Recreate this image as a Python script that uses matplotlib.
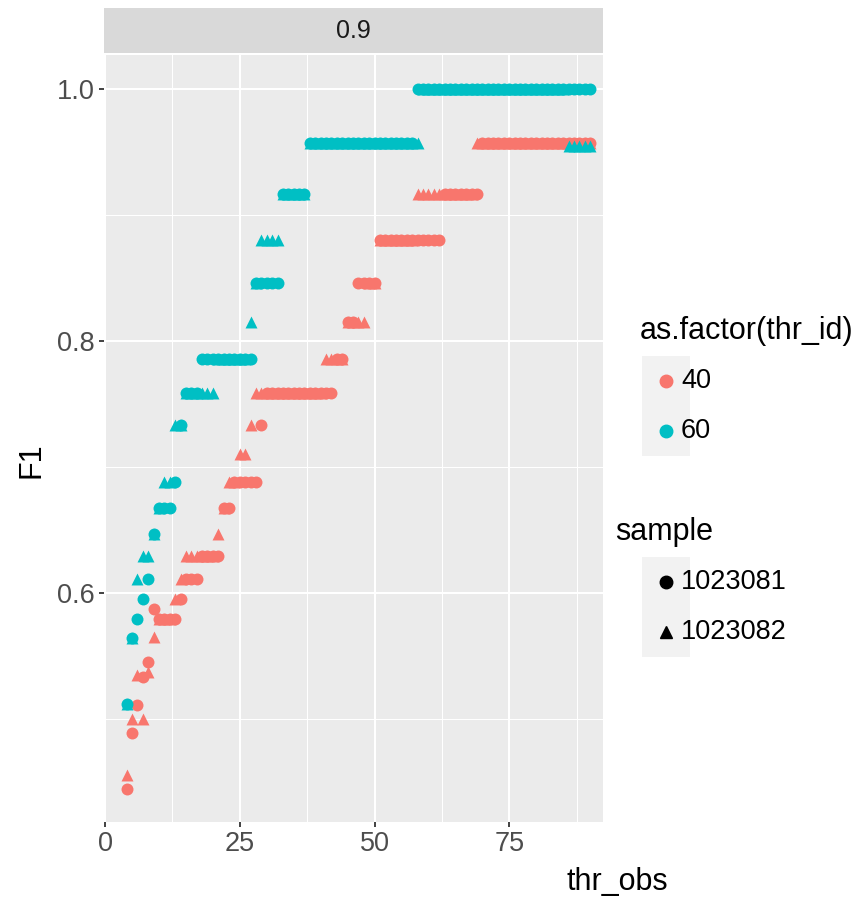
import numpy as np
import matplotlib
matplotlib.use("Agg")
import matplotlib.pyplot as plt
from matplotlib.lines import Line2D
from matplotlib.patches import Rectangle

plt.rcParams['font.family'] = ['Liberation Sans', 'DejaVu Sans']

# thr_obs runs over integers 4..90
thr_obs = np.arange(4, 91)

# F1 for thr_id 40, sample 1023081 (red circles)
f1_40_a = [0.444, 0.489, 0.511, 0.533, 0.545, 0.587, 0.579, 0.579, 0.579, 0.579,
           0.595, 0.611, 0.611, 0.611, 0.629, 0.629, 0.629, 0.629, 0.667, 0.667,
           0.688, 0.688, 0.688, 0.688, 0.688, 0.733,
           0.759, 0.759, 0.759, 0.759, 0.759, 0.759, 0.759, 0.759, 0.759, 0.759,
           0.759, 0.759, 0.759,
           0.786, 0.786, 0.815, 0.815, 0.846, 0.846, 0.846, 0.846,
           0.880, 0.880, 0.880, 0.880, 0.880, 0.880, 0.880, 0.880, 0.880, 0.880,
           0.880, 0.880,
           0.917, 0.917, 0.917, 0.917, 0.917, 0.917, 0.917,
           0.957, 0.957, 0.957, 0.957, 0.957, 0.957, 0.957, 0.957, 0.957, 0.957,
           0.957, 0.957, 0.957, 0.957, 0.957, 0.957, 0.957, 0.957, 0.957, 0.957,
           0.957]

# F1 for thr_id 40, sample 1023082 (red triangles)
f1_40_b = [0.455, 0.500, 0.535, 0.500, 0.537, 0.565, 0.579, 0.579, 0.579, 0.595,
           0.611,
           0.629, 0.629, 0.629, 0.629, 0.629, 0.629,
           0.647, 0.667, 0.688, 0.688, 0.710, 0.710, 0.733,
           0.759, 0.759, 0.759, 0.759, 0.759, 0.759, 0.759, 0.759, 0.759, 0.759,
           0.759, 0.759, 0.759,
           0.786, 0.786, 0.786, 0.786, 0.815, 0.815, 0.815, 0.815, 0.846, 0.846,
           0.880, 0.880, 0.880, 0.880, 0.880, 0.880, 0.880,
           0.917, 0.917, 0.917, 0.917, 0.917, 0.917, 0.917, 0.917, 0.917, 0.917,
           0.917,
           0.957, 0.957, 0.957, 0.957, 0.957, 0.957, 0.957, 0.957, 0.957, 0.957,
           0.957, 0.957, 0.957, 0.957, 0.957, 0.957, 0.957, 0.957, 0.957, 0.957,
           0.957, 0.957]

# F1 for thr_id 60, sample 1023081 (teal circles)
f1_60_a = [0.512, 0.564, 0.579, 0.595, 0.611, 0.647, 0.667, 0.667, 0.667, 0.688,
           0.733, 0.759, 0.759, 0.759,
           0.786, 0.786, 0.786, 0.786, 0.786, 0.786, 0.786, 0.786, 0.786, 0.786,
           0.846, 0.846, 0.846, 0.846, 0.846,
           0.917, 0.917, 0.917, 0.917, 0.917,
           0.957, 0.957, 0.957, 0.957, 0.957, 0.957, 0.957, 0.957, 0.957, 0.957,
           0.957, 0.957, 0.957, 0.957, 0.957, 0.957, 0.957, 0.957, 0.957, 0.957,
           1.0, 1.0, 1.0, 1.0, 1.0, 1.0, 1.0, 1.0, 1.0, 1.0,
           1.0, 1.0, 1.0, 1.0, 1.0, 1.0, 1.0, 1.0, 1.0, 1.0,
           1.0, 1.0, 1.0, 1.0, 1.0, 1.0, 1.0, 1.0, 1.0, 1.0,
           1.0, 1.0, 1.0]

# F1 for thr_id 60, sample 1023082 (teal triangles)
f1_60_b = [0.512, 0.564, 0.611, 0.629, 0.629, 0.647, 0.667, 0.688, 0.688, 0.733,
           0.733,
           0.759, 0.759, 0.759, 0.759, 0.759, 0.759,
           0.786, 0.786, 0.786, 0.786, 0.786, 0.786,
           0.815, 0.846, 0.880, 0.880, 0.880, 0.880,
           0.917, 0.917, 0.917, 0.917, 0.917,
           0.957, 0.957, 0.957, 0.957, 0.957, 0.957, 0.957, 0.957, 0.957, 0.957,
           0.957, 0.957, 0.957, 0.957, 0.957, 0.957, 0.957, 0.957, 0.957, 0.957,
           0.957,
           1.0, 1.0, 1.0, 1.0, 1.0, 1.0, 1.0, 1.0, 1.0, 1.0,
           1.0, 1.0, 1.0, 1.0, 1.0, 1.0, 1.0, 1.0, 1.0, 1.0,
           1.0, 1.0, 1.0, 1.0, 1.0, 1.0, 1.0,
           0.955, 0.955, 0.955, 0.955, 0.955]

thr_ids = ["40", "60"]
samples = ["1023081", "1023082"]
colors = {"40": "#F8766D", "60": "#00BFC4"}
shapes = {"1023081": "o", "1023082": "^"}

fig = plt.figure(figsize=(8.66, 8.98), dpi=100)
W, H = 866, 898

def fx(px):
    return px / W

def fy(py):
    return 1 - py / H

ax = fig.add_axes([fx(104), fy(822), fx(603) - fx(104), fy(55) - fy(822)])
ax.set_facecolor("#EBEBEB")
for s in ax.spines.values():
    s.set_visible(False)

ax.set_xlim(-0.2, 92.4)
ax.set_ylim(0.418, 1.027)
ax.set_xticks([0, 25, 50, 75])
ax.set_xticks([12.5, 37.5, 62.5, 87.5], minor=True)
ax.set_yticks([0.6, 0.8, 1.0])
ax.set_yticklabels(["0.6", "0.8", "1.0"])
ax.set_yticks([0.5, 0.7, 0.9], minor=True)
ax.grid(which="major", color="white", linewidth=1.5)
ax.grid(which="minor", color="white", linewidth=0.75)
ax.set_axisbelow(True)
ax.tick_params(which="major", length=3.5, width=1.3, color="#333333",
               labelsize=19.5, labelcolor="#4D4D4D", pad=3)
ax.tick_params(which="minor", length=0)

series = [("40", "1023081", f1_40_a), ("60", "1023081", f1_60_a),
          ("40", "1023082", f1_40_b), ("60", "1023082", f1_60_b)]
for tid, smp, vals in series:
    ax.scatter(thr_obs, vals, s=74, marker=shapes[smp], color=colors[tid],
               linewidths=0, zorder=3)

# facet strip
strip = fig.add_axes([fx(104), fy(53), fx(603) - fx(104), fy(8) - fy(53)])
strip.set_facecolor("#D9D9D9")
strip.set_xticks([])
strip.set_yticks([])
for s in strip.spines.values():
    s.set_visible(False)
strip.text(0.5, 0.5, "0.9", ha="center", va="center", fontsize=18,
           color="#1A1A1A", transform=strip.transAxes)

# axis titles
fig.text(fx(32), fy(460), "F1", rotation=90, ha="center", va="center",
         fontsize=22, color="black")
fig.text(fx(617), fy(882), "thr_obs", ha="center", va="center",
         fontsize=22, color="black")

# legends drawn by hand to match ggplot layout
def legend_block(title, title_x, title_y, labels, key_colors, key_markers, top):
    fig.text(fx(title_x), fy(title_y), title, ha="left", va="center",
             fontsize=22, color="black")
    key_h = 50
    fig.patches.append(Rectangle((fx(642), fy(top + key_h * len(labels))),
                                 fx(690) - fx(642), (key_h * len(labels)) / H,
                                 transform=fig.transFigure, facecolor="#F2F2F2",
                                 edgecolor="none", figure=fig))
    for i, lab in enumerate(labels):
        cy = top + key_h * i + key_h / 2
        fig.add_artist(Line2D([fx(666)], [fy(cy)], marker=key_markers[i],
                              markersize=9, color=key_colors[i], linestyle="none",
                              transform=fig.transFigure))
        fig.text(fx(681), fy(cy), lab, ha="left", va="center", fontsize=19.5,
                 color="black")

legend_block("as.factor(thr_id)", 640, 331, thr_ids,
             [colors[t] for t in thr_ids], ["o", "o"], 356)
legend_block("sample", 615, 532, samples,
             ["black", "black"], [shapes[s] for s in samples], 557)

fig.savefig("out.png", dpi=100)
